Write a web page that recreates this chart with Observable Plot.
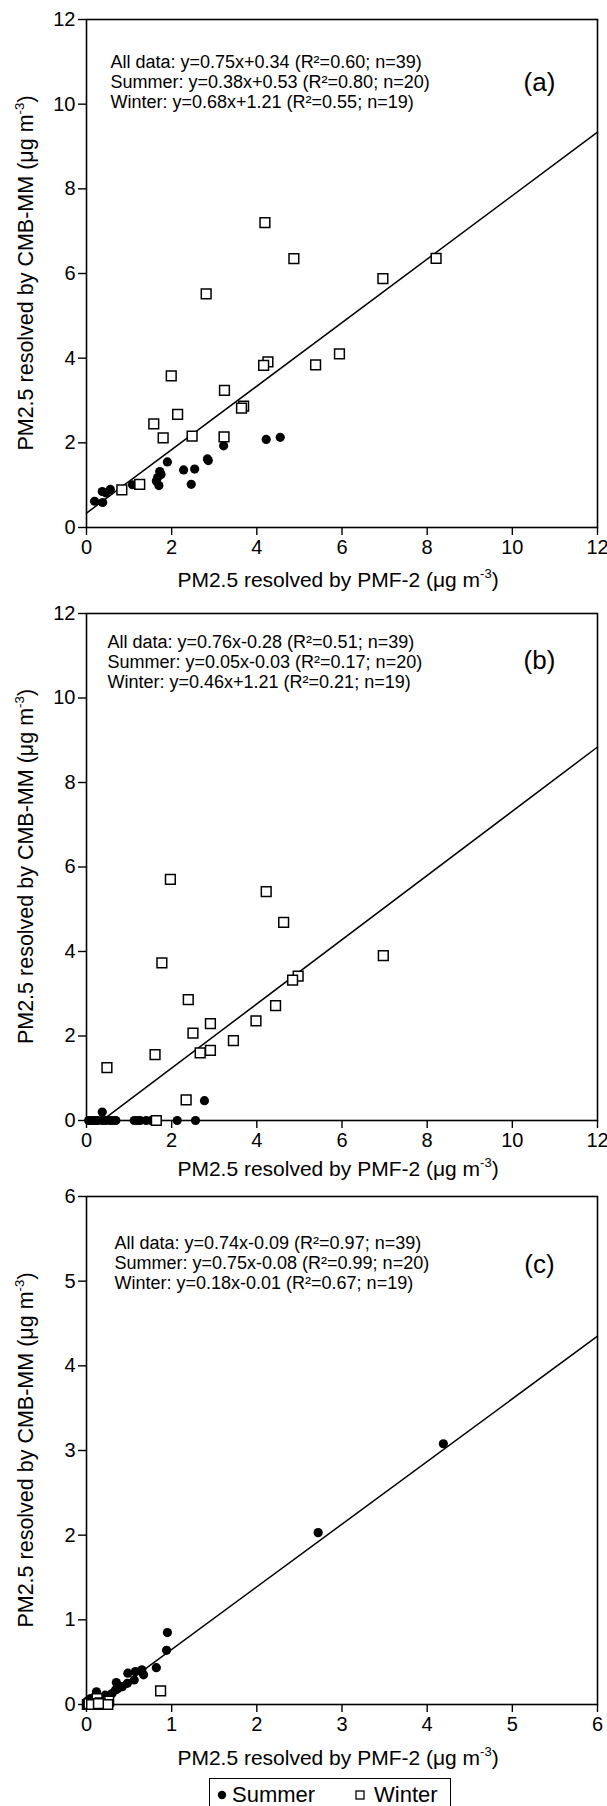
<!DOCTYPE html>
<html>
<head>
<meta charset="utf-8">
<script src="https://cdn.jsdelivr.net/npm/d3@7"></script>
<script src="https://cdn.jsdelivr.net/npm/@observablehq/plot@0.6"></script>
<style>
  html, body { margin: 0; padding: 0; background: #fff; }
  body { width: 607px; overflow: hidden; font-family: "Liberation Sans", Arial, Helvetica, sans-serif; }
  svg { display: block; }
  #legend { position: relative; margin-left: 209px; margin-top: 2px; width: 242px; height: 40px;
    border: 1.5px solid #000; border-bottom: none; box-sizing: border-box; font-size: 22px; color: #000; }
  #legend .item { position: absolute; top: 3px; display: flex; align-items: center; white-space: nowrap; }
</style>
</head>
<body>
<div id="chart"></div>
<div id="legend">
  <div class="item" style="left:6px"><svg width="14" height="26"><circle cx="6" cy="13" r="4.2" fill="#000"/></svg><span style="margin-left:2px">Summer</span></div>
  <div class="item" style="left:142px"><svg width="18" height="26"><rect x="4" y="9" width="8" height="8" fill="#fff" stroke="#000" stroke-width="1.3"/></svg><span style="margin-left:4px">Winter</span></div>
</div>
<script>
const FONT = '"Liberation Sans", Arial, Helvetica, sans-serif';

// ---------- Panel (a) ----------
const aSummerX = [0.19, 0.38, 0.37, 0.56, 1.08, 1.90, 1.72, 1.67, 1.70, 1.64, 2.28, 2.54, 2.46, 2.84, 3.22, 4.22, 4.55, 0.45, 1.75, 2.86];
const aSummerY = [0.62, 0.59, 0.85, 0.90, 1.01, 1.55, 1.32, 1.18, 0.99, 1.10, 1.36, 1.38, 1.02, 1.62, 1.93, 2.08, 2.13, 0.82, 1.25, 1.58];
const aWinterX = [4.19, 4.87, 8.21, 6.96, 2.81, 5.94, 4.26, 4.16, 5.38, 1.99, 3.24, 3.69, 3.64, 2.14, 1.58, 1.80, 2.48, 3.23, 1.25, 0.83];
const aWinterY = [7.20, 6.35, 6.36, 5.88, 5.52, 4.10, 3.91, 3.83, 3.84, 3.58, 3.24, 2.87, 2.82, 2.67, 2.45, 2.12, 2.16, 2.14, 1.02, 0.89];
const aFit = {slope: 0.75, intercept: 0.34, x0: 0, x1: 12};
const aText = ["All data: y=0.75x+0.34 (R²=0.60; n=39)", "Summer: y=0.38x+0.53 (R²=0.80; n=20)", "Winter: y=0.68x+1.21 (R²=0.55; n=19)"];

// ---------- Panel (b) ----------
const bSummerX = [0.05, 0.10, 0.16, 0.22, 0.27, 0.37, 0.37, 0.45, 0.55, 0.62, 0.69, 1.12, 1.20, 1.26, 1.40, 1.52, 1.66, 2.13, 2.56, 2.77];
const bSummerY = [0, 0, 0, 0, 0, 0.20, 0, 0, 0, 0, 0, 0, 0, 0, 0, 0, 0, 0, 0, 0.47];
const bWinterX = [1.97, 4.22, 4.63, 6.97, 1.77, 4.97, 4.84, 2.39, 4.44, 2.91, 3.98, 2.50, 3.45, 2.91, 2.67, 1.61, 0.48, 2.34, 1.64];
const bWinterY = [5.71, 5.42, 4.69, 3.90, 3.73, 3.42, 3.32, 2.86, 2.72, 2.29, 2.36, 2.07, 1.89, 1.66, 1.60, 1.56, 1.25, 0.49, 0.00];
const bFit = {slope: 0.76, intercept: -0.28, x0: 0.37, x1: 12};
const bText = ["All data: y=0.76x-0.28 (R²=0.51; n=39)", "Summer: y=0.05x-0.03 (R²=0.17; n=20)", "Winter: y=0.46x+1.21 (R²=0.21; n=19)"];

// ---------- Panel (c) ----------
const cSummerX = [4.19, 2.72, 0.95, 0.94, 0.82, 0.65, 0.67, 0.575, 0.56, 0.485, 0.48, 0.42, 0.35, 0.34, 0.30, 0.22, 0.117, 0.047, 0.01, 0.37];
const cSummerY = [3.08, 2.03, 0.85, 0.64, 0.435, 0.41, 0.35, 0.39, 0.29, 0.37, 0.25, 0.21, 0.26, 0.17, 0.13, 0.11, 0.15, 0.07, 0.04, 0.19];
const cWinterX = [0.87, 0.01, 0.125, 0.14, 0.235, 0.26, 0.02, 0.05, 0.08, 0.10, 0.18, 0.20, 0.03, 0.12, 0.16, 0.22, 0.06, 0.25, 0.14];
const cWinterY = [0.16, 0.00, 0.07, 0.00, 0.00, 0.04, 0.00, 0.00, 0.00, 0.00, 0.00, 0.00, 0.01, 0.00, 0.02, 0.00, 0.00, 0.00, 0.01];
const cFit = {slope: 0.74, intercept: -0.09, x0: 0.12, x1: 6};
const cText = ["All data: y=0.74x-0.09 (R²=0.97; n=39)", "Summer: y=0.75x-0.08 (R²=0.99; n=20)", "Winter: y=0.18x-0.01 (R²=0.67; n=19)"];

const ticks12 = [0, 2, 4, 6, 8, 10, 12];
const ticks6 = [0, 1, 2, 3, 4, 5, 6];
const xTitle = ["PM2.5 resolved by PMF-2 (μg m", "-3", ")"];
const yTitle = ["PM2.5 resolved by CMB-MM (μg m", "-3", ")"];

const zip = (xs, ys) => xs.map((x, i) => ({x, y: ys[i]}));
const fitLine = f => [f.x0, f.x1].map(x => ({x, y: f.slope * x + f.intercept}));
const fmt = d3.format("d");

function addTitle(svg, x, y, parts, size, rotate) {
  const t = d3.select(svg).append("text")
    .attr("transform", rotate ? `translate(${x},${y}) rotate(-90)` : `translate(${x},${y})`)
    .attr("text-anchor", "middle").attr("font-size", size).attr("fill", "#000")
    .attr("font-family", FONT);
  t.append("tspan").text(parts[0]);
  t.append("tspan").attr("font-size", size * 0.62).attr("dy", -size * 0.42).text(parts[1]);
  t.append("tspan").attr("dy", size * 0.42).text(parts[2]);
}

function panel(o) {
  const W = 607, ML = 86, MR = 10;
  const svg = Plot.plot({
    width: W, height: o.height,
    marginTop: o.mt, marginBottom: o.mb, marginLeft: ML, marginRight: MR,
    style: {fontFamily: FONT, fontSize: "20px", color: "#000", background: "#fff", overflow: "visible"},
    x: {domain: [0, o.max], ticks: o.ticks},
    y: {domain: [0, o.max], ticks: o.ticks},
    marks: [
      Plot.axisX({ticks: o.ticks, tickFormat: fmt, tickSize: 8, tickPadding: 4, fontSize: 20, label: null, stroke: "#000", strokeWidth: 1.4, fill: "#000"}),
      Plot.axisY({ticks: o.ticks, tickFormat: fmt, tickSize: 8, tickPadding: 3, fontSize: 20, label: null, stroke: "#000", strokeWidth: 1.4, fill: "#000"}),
      Plot.frame({stroke: "#000", strokeWidth: 1.6}),
      Plot.line(fitLine(o.fit), {x: "x", y: "y", stroke: "#000", strokeWidth: 1.5}),
      Plot.dot(zip(o.sx, o.sy), {x: "x", y: "y", r: 4.6, fill: "#000", stroke: "none"}),
      Plot.dot(zip(o.wx, o.wy), {x: "x", y: "y", symbol: "square", r: 5.5, fill: "#fff", stroke: "#000", strokeWidth: 1.5}),
      Plot.text([o.text.join("\n")], {frameAnchor: "top-left", textAnchor: "start", lineAnchor: "middle",
        dx: o.tdx, dy: o.tdy, fontSize: 18, lineHeight: 1.12, fill: "#000"}),
      Plot.text([o.letter], {frameAnchor: "top-right", textAnchor: "middle", lineAnchor: "middle",
        dx: -58, dy: o.ldy, fontSize: 26, fill: "#000"})
    ]
  });
  const plotBottom = o.height - o.mb;
  addTitle(svg, 338, plotBottom + o.titleDy + 7, xTitle, 21, false);
  addTitle(svg, 33, (o.mt + plotBottom) / 2, yTitle, 21.5, true);
  return svg;
}

const chart = document.getElementById("chart");
chart.append(panel({height: 600, mt: 19, mb: 73, max: 12, ticks: ticks12,
  sx: aSummerX, sy: aSummerY, wx: aWinterX, wy: aWinterY, fit: aFit, text: aText, letter: "(a)",
  tdx: 24, tdy: 62, ldy: 63, titleDy: 53}));
chart.append(panel({height: 585, mt: 13, mb: 65, max: 12, ticks: ticks12,
  sx: bSummerX, sy: bSummerY, wx: bWinterX, wy: bWinterY, fit: bFit, text: bText, letter: "(b)",
  tdx: 21, tdy: 48, ldy: 47, titleDy: 49}));
chart.append(panel({height: 591, mt: 11, mb: 72, max: 6, ticks: ticks6,
  sx: cSummerX, sy: cSummerY, wx: cWinterX, wy: cWinterY, fit: cFit, text: cText, letter: "(c)",
  tdx: 28, tdy: 66, ldy: 68, titleDy: 54}));
</script>
</body>
</html>
